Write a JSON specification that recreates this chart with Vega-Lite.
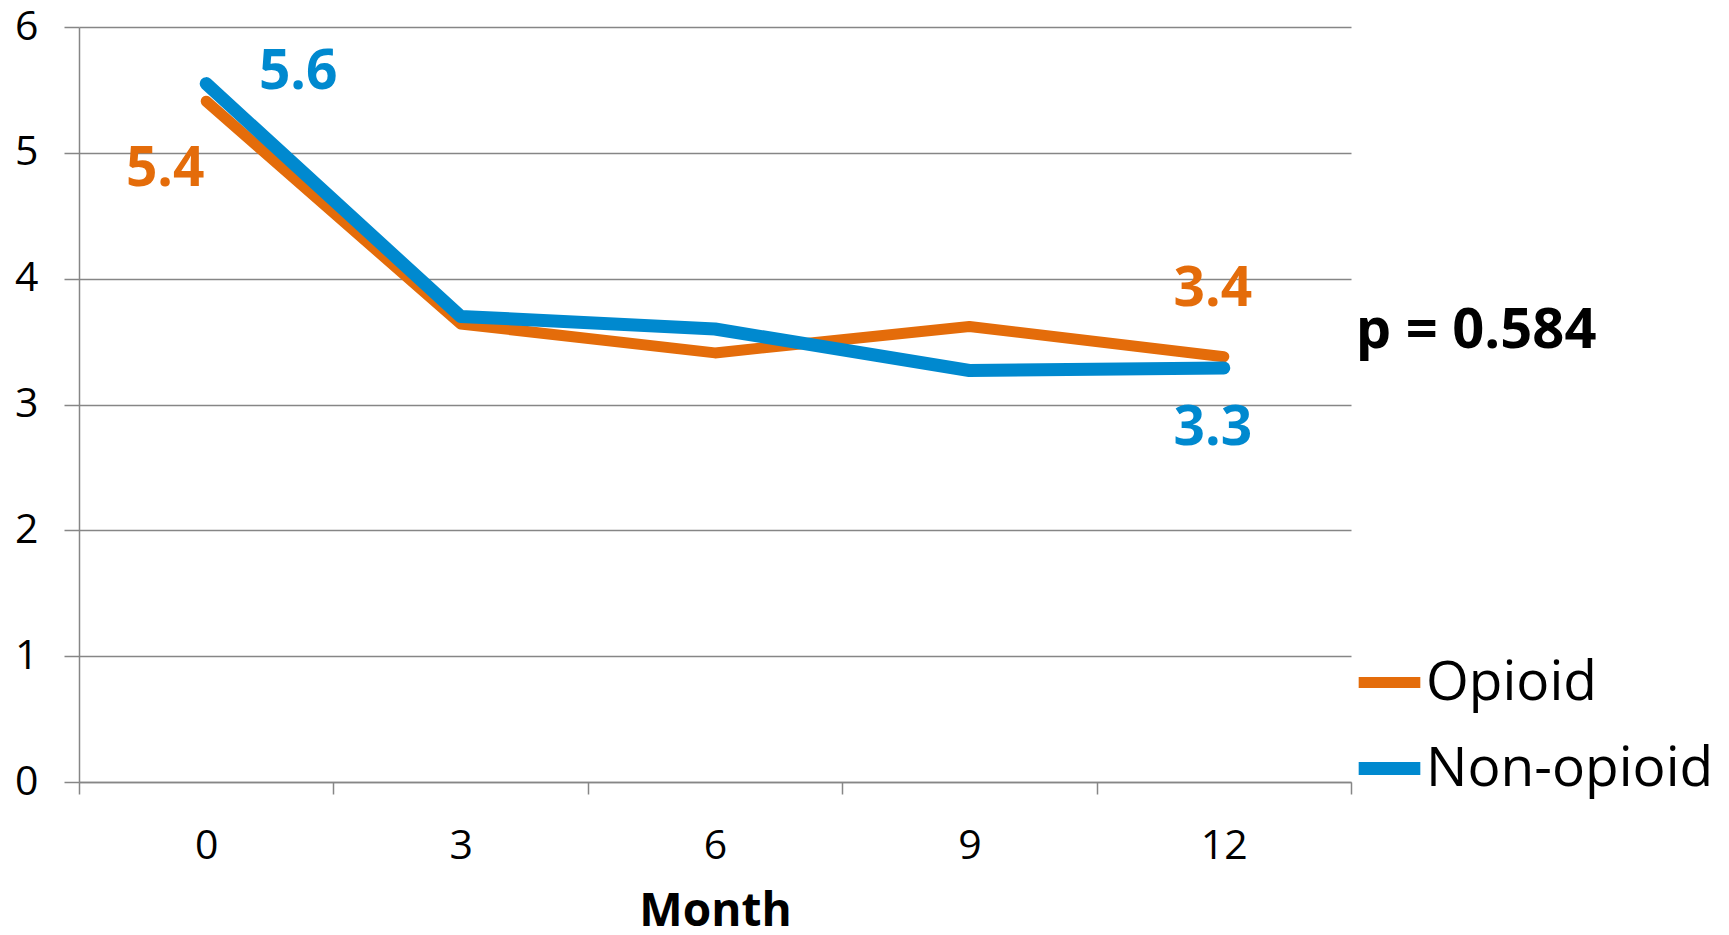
{
  "$schema": "https://vega.github.io/schema/vega-lite/v6.json",
  "width": 1272,
  "height": 755,
  "autosize": "none",
  "padding": {"left": 79, "top": 27, "right": 378, "bottom": 153},
  "background": "white",
  "config": {
    "font": "Open Sans",
    "view": {"stroke": null}
  },
  "datasets": {
    "series": [
      {"month": "0", "series": "Opioid", "value": 5.41},
      {"month": "3", "series": "Opioid", "value": 3.64},
      {"month": "6", "series": "Opioid", "value": 3.41},
      {"month": "9", "series": "Opioid", "value": 3.62},
      {"month": "12", "series": "Opioid", "value": 3.38},
      {"month": "0", "series": "Non-opioid", "value": 5.55},
      {"month": "3", "series": "Non-opioid", "value": 3.7},
      {"month": "6", "series": "Non-opioid", "value": 3.6},
      {"month": "9", "series": "Non-opioid", "value": 3.27},
      {"month": "12", "series": "Non-opioid", "value": 3.29}
    ],
    "labels": [
      {"month": "0", "series": "Opioid", "value": 5.41, "label": "5.4"},
      {"month": "0", "series": "Non-opioid", "value": 5.55, "label": "5.6"},
      {"month": "12", "series": "Opioid", "value": 3.38, "label": "3.4"},
      {"month": "12", "series": "Non-opioid", "value": 3.29, "label": "3.3"}
    ],
    "note": [
      {"month": "12", "value": 3.4, "label": "p = 0.584"}
    ]
  },
  "encoding": {
    "x": {
      "field": "month",
      "type": "ordinal",
      "sort": ["0", "3", "6", "9", "12"],
      "scale": {"type": "band", "paddingInner": 0, "paddingOuter": 0},
      "axis": {
        "title": "Month",
        "titleFont": "Open Sans",
        "titleFontSize": 46,
        "titleFontWeight": "bold",
        "titleColor": "black",
        "titlePadding": 23,
        "labelAngle": 0,
        "labelFontSize": 41,
        "labelColor": "black",
        "labelPadding": 32,
        "tickBand": "extent",
        "tickSize": 12,
        "tickColor": "#868686",
        "tickWidth": 1.5,
        "domainColor": "#868686",
        "domainWidth": 1.5,
        "grid": false
      }
    },
    "y": {
      "field": "value",
      "type": "quantitative",
      "scale": {"domain": [0, 6], "nice": false, "zero": true},
      "axis": {
        "title": null,
        "values": [0, 1, 2, 3, 4, 5, 6],
        "labelFontSize": 41,
        "labelColor": "black",
        "labelPadding": 26,
        "tickSize": 15,
        "tickColor": "#868686",
        "tickWidth": 1.5,
        "domainColor": "#868686",
        "domainWidth": 1.5,
        "grid": true,
        "gridColor": "#868686",
        "gridWidth": 1.5
      }
    }
  },
  "layer": [
    {
      "data": {"name": "series"},
      "mark": {"type": "line", "strokeCap": "round", "strokeJoin": "round"},
      "encoding": {
        "color": {
          "field": "series",
          "type": "nominal",
          "scale": {"domain": ["Opioid", "Non-opioid"], "range": ["#E46C0A", "#0089CF"]},
          "legend": {
            "title": null,
            "orient": "none",
            "legendX": 1273,
            "legendY": 619,
            "padding": 0,
            "symbolType": "stroke",
            "symbolStrokeWidth": 10,
            "symbolSize": 3800,
            "labelFontSize": 55,
            "labelColor": "black",
            "labelOffset": -1,
            "rowPadding": 20,
            "labelLimit": 400
          }
        },
        "strokeWidth": {
          "field": "series",
          "type": "nominal",
          "scale": {"domain": ["Opioid", "Non-opioid"], "range": [11, 13]},
          "legend": null
        },
        "order": {"field": "series", "sort": "descending"}
      }
    },
    {
      "data": {"name": "labels"},
      "transform": [{"filter": "datum.label === '5.6'"}],
      "mark": {"type": "text", "fontWeight": "bold", "fontSize": 55, "color": "#0089CF", "dx": 92, "dy": -12, "baseline": "middle"},
      "encoding": {"text": {"field": "label"}}
    },
    {
      "data": {"name": "labels"},
      "transform": [{"filter": "datum.label === '5.4'"}],
      "mark": {"type": "text", "fontWeight": "bold", "fontSize": 55, "color": "#E46C0A", "dx": -41, "dy": 68, "baseline": "middle"},
      "encoding": {"text": {"field": "label"}}
    },
    {
      "data": {"name": "labels"},
      "transform": [{"filter": "datum.label === '3.4'"}],
      "mark": {"type": "text", "fontWeight": "bold", "fontSize": 55, "color": "#E46C0A", "dx": -11, "dy": -68, "baseline": "middle"},
      "encoding": {"text": {"field": "label"}}
    },
    {
      "data": {"name": "labels"},
      "transform": [{"filter": "datum.label === '3.3'"}],
      "mark": {"type": "text", "fontWeight": "bold", "fontSize": 55, "color": "#0089CF", "dx": -11, "dy": 60, "baseline": "middle"},
      "encoding": {"text": {"field": "label"}}
    },
    {
      "data": {"name": "note"},
      "mark": {"type": "text", "fontWeight": "bold", "fontSize": 56, "color": "black", "align": "left", "dx": 132, "dy": -23, "baseline": "middle"},
      "encoding": {"text": {"field": "label"}}
    }
  ]
}
